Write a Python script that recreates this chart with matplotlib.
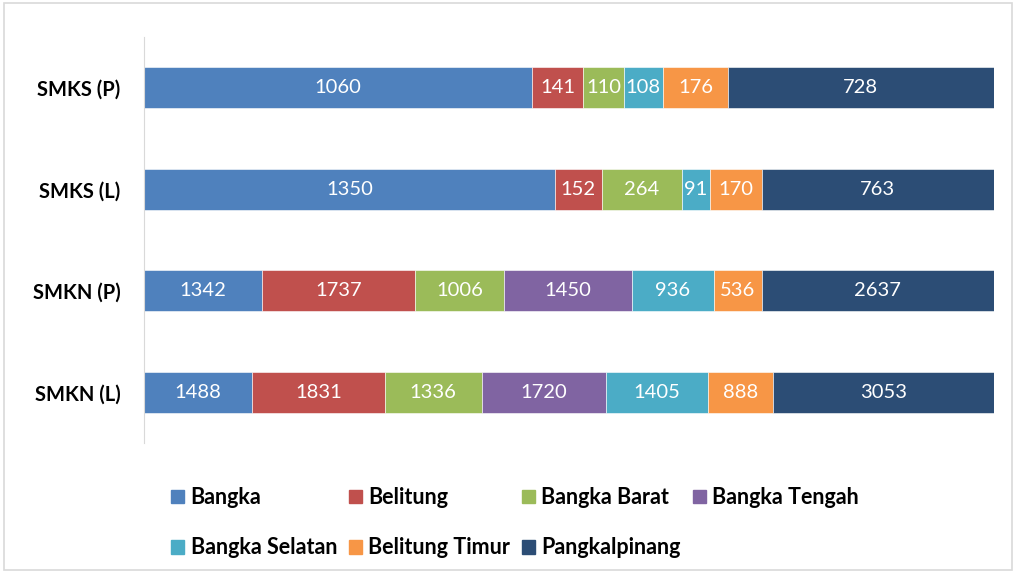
import numpy as np
import matplotlib.pyplot as plt
from matplotlib.patches import Patch, Rectangle

plt.rcParams['font.family'] = ['Lato', 'DejaVu Sans']

categories = ['SMKN (L)', 'SMKN (P)', 'SMKS (L)', 'SMKS (P)']
regions = ['Bangka', 'Belitung', 'Bangka Barat', 'Bangka Tengah',
           'Bangka Selatan', 'Belitung Timur', 'Pangkalpinang']
bangka = [1488, 1342, 1350, 1060]
belitung = [1831, 1737, 152, 141]
bangka_barat = [1336, 1006, 264, 110]
bangka_tengah = [1720, 1450, 0, 0]
bangka_selatan = [1405, 936, 91, 108]
belitung_timur = [888, 536, 170, 176]
pangkalpinang = [3053, 2637, 763, 728]
colors = ['#4F81BD', '#C0504D', '#9BBB59', '#8064A2', '#4BACC6', '#F79646', '#2C4D75']

series = np.array([bangka, belitung, bangka_barat, bangka_tengah,
                   bangka_selatan, belitung_timur, pangkalpinang], dtype=float)
totals = series.sum(axis=0)
shares = series / totals

fig = plt.figure(figsize=(10.16, 5.72), dpi=100)
fig.patches.append(Rectangle((0.004, 0.004), 0.992, 0.99, transform=fig.transFigure,
                             fill=False, edgecolor='#d9d9d9', linewidth=1.2))
ax = fig.add_axes([0.1417, 0.2255, 0.8366, 0.7098])

y = np.arange(len(categories))
left = np.zeros(len(categories))
for i, name in enumerate(regions):
    ax.barh(y, shares[i], left=left, height=0.4, color=colors[i],
            edgecolor='white', linewidth=0.4, label=name)
    for j in range(len(categories)):
        if series[i, j] > 0:
            ax.text(left[j] + shares[i, j] / 2, y[j], f'{int(series[i, j])}',
                    ha='center', va='center', color='white', fontsize=14.5)
    left += shares[i]

ax.set_xlim(0, 1)
ax.set_ylim(-0.5, 3.5)
ax.set_yticks(y)
ax.set_yticklabels(categories, fontsize=14.5, fontweight='bold')
ax.tick_params(axis='y', length=0, pad=17)
ax.set_xticks([])
for s in ['top', 'right', 'bottom']:
    ax.spines[s].set_visible(False)
ax.spines['left'].set_color('#d9d9d9')

# legend is filled column by column, so reorder to read row by row
order = [0, 4, 1, 5, 2, 6, 3]
handles = [Patch(color=colors[k]) for k in order]
labels = [regions[k] for k in order]
fig.legend(handles, labels, loc='upper left', bbox_to_anchor=(0.158, 0.167),
           ncol=4, frameon=False, prop={'weight': 'bold', 'size': 15.5},
           handlelength=0.6, handleheight=0.6, handletextpad=0.3,
           columnspacing=0.55, labelspacing=1.35, borderpad=0)

fig.savefig('out.png', dpi=100)
